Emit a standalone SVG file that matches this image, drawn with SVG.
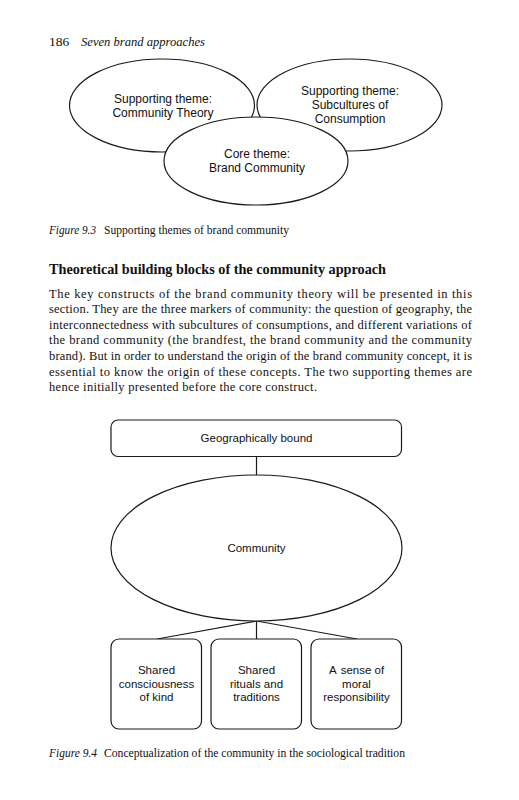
<svg xmlns="http://www.w3.org/2000/svg" width="519" height="800" viewBox="0 0 519 800">
<style>
.bg{fill:#ffffff}
.shape{fill:#ffffff;stroke:#1a1a1a;stroke-width:1.2}
.conn{stroke:#1a1a1a;stroke-width:1.2;fill:none}
.lbl{font-family:"Liberation Sans",Arial,sans-serif;font-size:12px;fill:#111;text-anchor:middle}
.lbl2{font-family:"Liberation Sans",Arial,sans-serif;font-size:11.5px;fill:#111;text-anchor:middle}
.serif{font-family:"Liberation Serif","Times New Roman",serif;fill:#111}
.it{font-style:italic}
.body{font-size:12.5px}
.cap{font-size:11.5px}
.head{font-size:14px;font-weight:bold}
</style>
<rect class="bg" x="0" y="0" width="519" height="800"/>

<!-- page header -->
<text class="serif" x="49" y="46" font-size="13.5">186</text>
<text class="serif it" x="81" y="46" font-size="13.5" textLength="124" lengthAdjust="spacingAndGlyphs">Seven brand approaches</text>

<!-- Figure 9.3 -->
<g id="theme-community-theory">
<ellipse class="shape" cx="162" cy="105.5" rx="92.5" ry="46.5"/>
<text class="lbl" x="163" y="103">Supporting theme:</text>
<text class="lbl" x="163" y="116.5">Community Theory</text>
</g>
<g id="theme-subcultures">
<ellipse class="shape" cx="349.5" cy="105" rx="92.5" ry="46"/>
<text class="lbl" x="350" y="95">Supporting theme:</text>
<text class="lbl" x="350" y="109">Subcultures of</text>
<text class="lbl" x="350" y="123">Consumption</text>
</g>
<g id="core-brand-community">
<ellipse class="shape" cx="256" cy="161" rx="92" ry="44"/>
<text class="lbl" x="257" y="158">Core theme:</text>
<text class="lbl" x="257" y="172">Brand Community</text>
</g>

<text class="serif cap" y="234"><tspan class="it" x="49" textLength="47" lengthAdjust="spacingAndGlyphs">Figure 9.3</tspan><tspan x="104" textLength="185" lengthAdjust="spacingAndGlyphs">Supporting themes of brand community</tspan></text>

<!-- Section text -->
<text class="serif head" x="49" y="274" textLength="337" lengthAdjust="spacingAndGlyphs">Theoretical building blocks of the community approach</text>
<g class="serif body">
<text x="49" y="297.5" textLength="423" lengthAdjust="spacing">The key constructs of the brand community theory will be presented in this</text>
<text x="49" y="313" textLength="423" lengthAdjust="spacing">section. They are the three markers of community: the question of geography, the</text>
<text x="49" y="328.5" textLength="423" lengthAdjust="spacing">interconnectedness with subcultures of consumptions, and different variations of</text>
<text x="49" y="344" textLength="423" lengthAdjust="spacing">the brand community (the brandfest, the brand community and the community</text>
<text x="49" y="360" textLength="423" lengthAdjust="spacing">brand). But in order to understand the origin of the brand community concept, it is</text>
<text x="49" y="375.5" textLength="423" lengthAdjust="spacing">essential to know the origin of these concepts. The two supporting themes are</text>
<text x="49" y="391" textLength="268" lengthAdjust="spacing">hence initially presented before the core construct.</text>
</g>

<!-- Figure 9.4 connectors -->
<g id="connectors">
<line class="conn" x1="256.5" y1="456" x2="256.5" y2="475"/>
<line class="conn" x1="256.5" y1="621" x2="157" y2="639"/>
<line class="conn" x1="256.5" y1="621" x2="256.5" y2="639"/>
<line class="conn" x1="256.5" y1="621" x2="357" y2="639"/>
</g>

<g id="geographically-bound">
<rect class="shape" x="111" y="420" width="290.5" height="36.5" rx="7"/>
<text class="lbl2" x="256.5" y="442">Geographically bound</text>
</g>
<g id="community">
<ellipse class="shape" cx="256.5" cy="548" rx="145.5" ry="73"/>
<text class="lbl2" x="256.5" y="552">Community</text>
</g>
<g id="shared-consciousness">
<rect class="shape" x="111" y="639" width="90.5" height="90" rx="8"/>
<text class="lbl2" x="156.5" y="674">Shared</text>
<text class="lbl2" x="156.5" y="687.5">consciousness</text>
<text class="lbl2" x="156.5" y="701">of kind</text>
</g>
<g id="shared-rituals">
<rect class="shape" x="211" y="639" width="90.5" height="90" rx="8"/>
<text class="lbl2" x="256.5" y="674">Shared</text>
<text class="lbl2" x="256.5" y="687.5">rituals and</text>
<text class="lbl2" x="256.5" y="701">traditions</text>
</g>
<g id="moral-responsibility">
<rect class="shape" x="311" y="639" width="90.5" height="90" rx="8"/>
<text class="lbl2" x="356.5" y="674">A<tspan dx="1.5"> sense of</tspan></text>
<text class="lbl2" x="356.5" y="687.5">moral</text>
<text class="lbl2" x="356.5" y="701">responsibility</text>
</g>

<text class="serif cap" y="756.5"><tspan class="it" x="49" textLength="48" lengthAdjust="spacingAndGlyphs">Figure 9.4</tspan><tspan x="104" textLength="301" lengthAdjust="spacingAndGlyphs">Conceptualization of the community in the sociological tradition</tspan></text>
</svg>
